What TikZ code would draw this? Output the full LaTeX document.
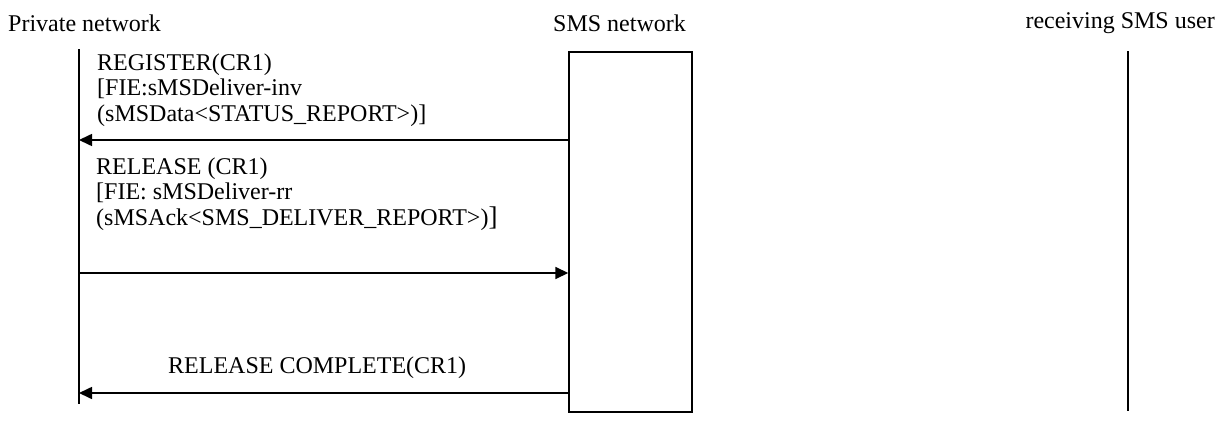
\documentclass[tikz,border=0pt]{standalone}
\usepackage{fontspec}
\setmainfont{Liberation Serif}
\usetikzlibrary{arrows.meta}

\tikzset{
  msgline/.style={line width=1.6pt, -{Triangle[length=13pt,width=12pt]}},
  msgtext/.style={anchor=west, align=left, inner sep=0pt, font=\fontsize{24}{25.5}\selectfont},
  headtext/.style={inner sep=0pt, font=\fontsize{24}{26}\selectfont}
}

\begin{document}
\begin{tikzpicture}[x=1pt,y=-1pt]
    \useasboundingbox (0,0) rectangle (1220,423);

    % heads
    \node [headtext, anchor=west] (PN) at (8,23) {Private network};
    \node [headtext] (SN) at (619.5,23) {SMS network};
    \node [headtext, anchor=east] (RU) at (1215,23) {receiving SMS user};

    % lifelines
    \coordinate (P1) at (79,49);
    \coordinate (P2) at (79,404);
    \coordinate (U1) at (1128,51);
    \coordinate (U2) at (1128,411);
    \draw [line width=1.4pt] (P1) -- (P2);
    \draw [line width=1.4pt] (U1) -- (U2);
    \node [draw, line width=1.4pt, minimum width=123pt, minimum height=360pt, inner sep=0pt] (S) at (630.5,232) {};

    % message ends
    \coordinate (A) at (79,140);
    \coordinate (B) at (79,273);
    \coordinate (C) at (79,393);

    \draw [msgline] (S.west |- A) -- (A);
    \draw [msgline] (B) -- (S.west |- B);
    \draw [msgline] (S.west |- C) -- (C);

    \node [msgtext] (reg) at (97,90) {REGISTER(CR1)\\{}[FIE:sMSDeliver-inv\\(sMSData<STATUS\_REPORT>)]};
    \node [msgtext] (rel) at (96,194) {RELEASE (CR1)\\{}[FIE: sMSDeliver-rr\\(sMSAck<SMS\_DELIVER\_REPORT>){\fontsize{27}{25.5}\selectfont]}};
    \node [msgtext] (rlc) at (168,368) {RELEASE COMPLETE(CR1)};
\end{tikzpicture}
\end{document}
